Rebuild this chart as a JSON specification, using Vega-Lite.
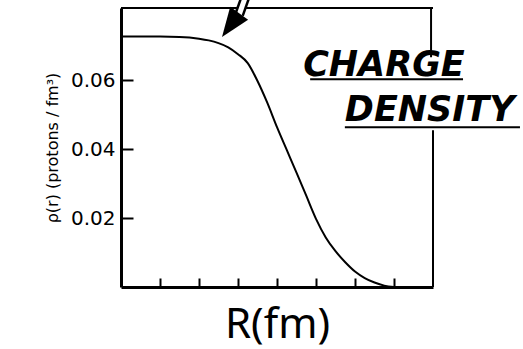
{
  "$schema": "https://vega.github.io/schema/vega-lite/v6.json",
  "width": 312,
  "height": 279,
  "autosize": {"type": "none"},
  "padding": {"left": 121, "top": 8, "right": 90, "bottom": 62},
  "background": "white",
  "config": {"view": {"stroke": null}},
  "datasets": {
    "curve": [
      {"R": 0.0, "rho": 0.0727}, {"R": 0.5, "rho": 0.0727}, {"R": 1.0, "rho": 0.0727},
      {"R": 1.5, "rho": 0.0726}, {"R": 2.0, "rho": 0.0721}, {"R": 2.25, "rho": 0.0716},
      {"R": 2.5, "rho": 0.0708}, {"R": 2.75, "rho": 0.0696}, {"R": 3.0, "rho": 0.0676},
      {"R": 3.25, "rho": 0.0650}, {"R": 3.5, "rho": 0.0598}, {"R": 3.75, "rho": 0.0535},
      {"R": 4.0, "rho": 0.0464}, {"R": 4.25, "rho": 0.0398}, {"R": 4.5, "rho": 0.0332},
      {"R": 4.75, "rho": 0.0265}, {"R": 5.0, "rho": 0.0198}, {"R": 5.25, "rho": 0.0144},
      {"R": 5.5, "rho": 0.0104}, {"R": 5.75, "rho": 0.0072}, {"R": 6.0, "rho": 0.0045},
      {"R": 6.25, "rho": 0.0026}, {"R": 6.5, "rho": 0.0013}, {"R": 6.75, "rho": 0.0004},
      {"R": 7.0, "rho": 0.0}
    ],
    "frame": [
      {"x": 0, "x2": 8, "y": 0.081, "y2": 0.081},
      {"x": 7.95, "x2": 7.95, "y": 0.081, "y2": 0.0667},
      {"x": 8, "x2": 8, "y": 0.0455, "y2": 0},
      {"x": 4.85, "x2": 8.77, "y": 0.0603, "y2": 0.0603},
      {"x": 5.74, "x2": 10.23, "y": 0.0464, "y2": 0.0464}
    ],
    "words": [
      {"x": 4.67, "y": 0.0612, "text": "CHARGE"},
      {"x": 5.74, "y": 0.0481, "text": "DENSITY"}
    ],
    "shaft": [
      {"o": 1, "x": 3.03, "y": 0.0791},
      {"o": 2, "x": 3.2, "y": 0.0845}
    ],
    "tip": [{"x": 2.59, "y": 0.0726}]
  },
  "layer": [
    {
      "data": {"name": "curve"},
      "mark": {"type": "line", "color": "black", "strokeWidth": 2, "interpolate": "monotone"},
      "encoding": {
        "x": {
          "field": "R", "type": "quantitative",
          "scale": {"domain": [0, 8], "nice": false, "zero": false},
          "axis": {
            "title": "R(fm)", "titleFont": "Noto Sans", "titleFontSize": 42,
            "titleFontWeight": "normal", "titleColor": "black", "titlePadding": 16,
            "labels": false, "grid": false, "values": [1, 2, 3, 4, 5, 6, 7],
            "domainColor": "black", "domainWidth": 3,
            "tickColor": "black", "tickWidth": 2, "tickSize": -9
          }
        },
        "y": {
          "field": "rho", "type": "quantitative",
          "scale": {"domain": [0, 0.081], "nice": false},
          "axis": {
            "title": "ρ(r)  (protons / fm³)", "titleFont": "DejaVu Sans",
            "titleFontSize": 16, "titleFontWeight": "normal", "titleColor": "black",
            "titlePadding": 10, "grid": false, "values": [0.02, 0.04, 0.06],
            "format": ".2f", "labelFont": "DejaVu Sans", "labelFontSize": 20,
            "labelColor": "black", "labelPadding": 18,
            "domainColor": "black", "domainWidth": 3,
            "tickColor": "black", "tickWidth": 2, "tickSize": -12
          }
        }
      }
    },
    {
      "data": {"name": "frame"},
      "mark": {"type": "rule", "color": "black", "strokeWidth": 2},
      "encoding": {
        "x": {"field": "x", "type": "quantitative"},
        "x2": {"field": "x2"},
        "y": {"field": "y", "type": "quantitative"},
        "y2": {"field": "y2"}
      }
    },
    {
      "data": {"name": "words"},
      "mark": {"type": "text", "align": "left", "baseline": "alphabetic", "font": "DejaVu Sans",
               "fontSize": 35, "fontWeight": "bold", "fontStyle": "italic", "color": "black"},
      "encoding": {
        "x": {"field": "x", "type": "quantitative"},
        "y": {"field": "y", "type": "quantitative"},
        "text": {"field": "text"}
      }
    },
    {
      "data": {"name": "shaft"},
      "mark": {"type": "line", "color": "black", "strokeWidth": 10, "strokeCap": "butt"},
      "encoding": {
        "x": {"field": "x", "type": "quantitative"},
        "y": {"field": "y", "type": "quantitative"},
        "order": {"field": "o"}
      }
    },
    {
      "data": {"name": "shaft"},
      "mark": {"type": "line", "color": "white", "strokeWidth": 5, "strokeCap": "butt"},
      "encoding": {
        "x": {"field": "x", "type": "quantitative"},
        "y": {"field": "y", "type": "quantitative"},
        "order": {"field": "o"}
      }
    },
    {
      "data": {"name": "tip"},
      "mark": {"type": "point", "shape": "M0,0 L-0.38,-1 L0.38,-1 Z", "filled": true,
               "color": "black", "opacity": 1, "size": 3400, "angle": 36},
      "encoding": {
        "x": {"field": "x", "type": "quantitative"},
        "y": {"field": "y", "type": "quantitative"}
      }
    }
  ]
}
